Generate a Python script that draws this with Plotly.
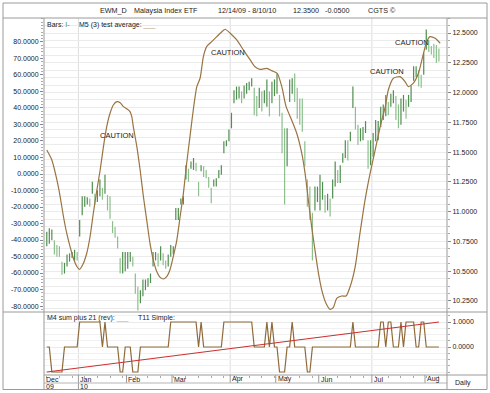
import plotly.graph_objects as go

# ---------------- data ----------------
highs = [10.83, 10.86, 10.85, 10.76, 10.72, 10.71, 10.58, 10.57, 10.64, 10.65,
         10.66, 10.68, 10.66, 10.93, 11.13, 11.13, 11.12, 11.11, 11.25, 11.15,
         11.18, 11.27, 11.20, 11.31, 11.14, 11.13, 10.92, 10.87, 10.79, 10.61,
         10.66, 10.66, 10.66, 10.66, 10.62, 10.48, 10.37, 10.34, 10.43, 10.43,
         10.44, 10.48, 10.66, 10.66, 10.65, 10.71, 10.65, 10.59, 10.64, 10.72,
         10.71, 11.03, 11.03, 11.11, 11.13, 11.39, 11.36, 11.42, 11.45, 11.41,
         11.25, 11.39, 11.38, 11.35, 11.29, 11.20, 11.27, 11.28, 11.35, 11.39,
         11.59, 11.60, 11.69, 11.83, 12.02, 12.05, 12.05,
         12.01, 12.06, 12.08, 12.09, 12.12, 12.04, 11.97, 12.04, 12.01, 12.02,
         12.11, 12.01, 12.09, 12.11, 12.16, 11.98, 11.83, 11.70, 11.70, 12.11,
         12.12, 12.16, 12.04, 11.95, 11.95, 11.59, 11.27, 11.21, 10.99, 11.21,
         11.21, 11.31, 11.25, 11.14, 11.15, 11.11, 11.27, 11.42, 11.35, 11.39,
         11.49, 11.60, 11.60, 11.67, 12.05, 11.88, 11.73, 11.70, 11.71, 11.76,
         11.60, 11.60, 11.66, 11.77, 11.76, 11.88, 11.90, 11.98, 11.92, 11.99,
         12.02, 11.97, 11.90, 11.95, 11.98, 11.94, 11.98, 12.06, 12.22, 12.22,
         12.19, 12.15, 12.33, 12.53, 12.44, 12.39, 12.41, 12.40, 12.37]
lows = [10.71, 10.73, 10.76, 10.64, 10.62, 10.62, 10.47, 10.48, 10.54, 10.58,
        10.61, 10.59, 10.59, 10.79, 10.97, 11.04, 11.06, 11.04, 11.15, 11.06,
        11.08, 11.13, 11.10, 11.15, 11.01, 10.94, 10.82, 10.78, 10.69, 10.48,
        10.48, 10.50, 10.52, 10.58, 10.54, 10.31, 10.17, 10.23, 10.29, 10.34,
        10.37, 10.40, 10.54, 10.59, 10.54, 10.59, 10.55, 10.52, 10.54, 10.62,
        10.64, 10.93, 10.93, 11.06, 11.06, 11.27, 11.25, 11.36, 11.35, 11.34,
        11.13, 11.34, 11.29, 11.28, 11.20, 11.07, 11.21, 11.21, 11.28, 11.31,
        11.49, 11.55, 11.59, 11.70, 11.91, 11.94, 11.95,
        11.91, 11.95, 11.99, 12.02, 12.05, 11.81, 11.80, 11.87, 11.84, 11.91,
        11.88, 11.80, 11.91, 11.97, 11.99, 11.80, 11.49, 11.06, 11.38, 11.92,
        11.99, 11.92, 11.78, 11.73, 11.67, 11.38, 11.04, 10.93, 10.59, 11.01,
        11.08, 11.01, 11.10, 10.99, 11.01, 10.96, 11.11, 11.21, 11.24, 11.24,
        11.41, 11.45, 11.43, 11.59, 11.87, 11.69, 11.56, 11.59, 11.60, 11.66,
        11.36, 11.39, 11.46, 11.59, 11.60, 11.71, 11.77, 11.80, 11.81, 11.88,
        11.91, 11.77, 11.70, 11.73, 11.84, 11.78, 11.88, 11.92, 12.10, 12.13,
        12.05, 12.04, 12.15, 12.36, 12.34, 12.32, 12.29, 12.25, 12.26]

# M5 (3) test average: readings (bar position, value)
ma_pos = [0, 2, 4, 5.3, 6.6, 7.9, 9.2, 10.5, 11.9, 12.9, 14.2, 15.8, 17.1, 18.4,
          19.8, 21.1, 22.4, 23.7, 25, 26.3, 27.7, 29, 30.3, 31.9, 32.9, 33.6,
          34.2, 35.6, 36.9, 38.2, 39.5, 40.8, 42.1, 43.5, 44.8, 46.1, 47.4,
          48.7, 50, 51.4, 52.7, 54, 55.3, 56.6, 57.9, 59.3, 60.6, 61.9, 63.2,
          65.2, 67.2, 69.2, 70.5, 72.5, 75.1, 77.7, 80.4, 82.3, 84.3, 87, 88.9,
          91.1, 92.9, 94.6, 96.8, 98.8, 100.8, 102.1, 103.4, 104.7, 106, 107.4,
          108.7, 110.4, 112, 113.3, 114.6, 116.6, 118.3, 119.9, 121.9, 123.8,
          125.8, 127.8, 129.8, 131.8, 133.8, 135, 137, 139.6, 141.6, 142.9,
          144.9, 146.9, 148.6, 150.2, 151.5, 153.5, 155.5]
ma_vals = [14.5, 8.5, -3.6, -13.8, -25.9, -36, -44, -51, -56, -57.8, -55, -48,
           -38, -23.8, -9.7, 2.4, 16.6, 28.7, 36.8, 41.8, 43.8, 43.2, 40.8,
           39.2, 37.8, 34.7, 28.7, 16.6, 2.4, -13.8, -27.9, -42, -52, -59.2,
           -62.6, -63.6, -62.2, -58, -50, -40, -25.9, -11.7, 6.5, 22.6, 38.8,
           52.9, 58, 71.1, 77.2, 80.2, 83.2, 86.2, 87.7, 85.3, 81.2, 75.2, 69.1,
           65, 63.4, 64, 62.6, 61, 52.9, 40.8, 32.7, 24.7, 12.5, 0.4, -15.8,
           -31.9, -46, -60.2, -70.3, -78.4, -82, -80.8, -75.3, -73.9, -73.9,
           -68.3, -56.2, -35.9, -15.8, 0.4, 14.5, 28.7, 40.8, 50.9, 58, 59, 56,
           52.9, 55, 61, 71.1, 80.2, 83.2, 82.2, 79.2]

# M4 sum plus 21 (rev), one value per bar
m4 = [0, 0, -1, -1, -1, -1, -1, 0, 0, 0, 0, 0, 0,
      1, 1, 1, 1, 1, 1, 1, 1, 1, 0, 1, 0, 0, 0, 0, 0,
      -1, -1, 0, 0, 0, -1, -1, -1,
      0, 0, 0, 0, 0, 0, 0, 0, 0, 0, 0, 0,
      1, 1, 1, 1, 1, 1, 1, 1, 1, 1, 1, 0, 1,
      0, 0, 0, 0, 0, 0, 0, 0,
      1, 1, 1, 1, 1, 1, 1, 1, 1, 1, 1, 1,
      0, 0, 0, 0, 0, 1, 0, 1, 0, 0, -1, -1, -1, 0, 0, 1,
      0, 0, 0, 0, 0, -1, -1,
      0, 0, 0, 0, 0, 0, 0, 0, 0, 0, 0, 0, 0, 0, 0, 0,
      1, 0, 0, 0, 0, 0, 0, 0, 0, 0, 0,
      1, 1, 0, 1, 1, 0, 0, 0, 1, 0, 1, 1, 1, 1, 0, 0, 1, 1,
      0, 0, 0, 0, 0, 0]

# T11 Simple (straight line: first and last bar)
t11_pos = [0, 155]
t11_vals = [-1.0, 1.0]

caution_pos = [27.7, 71.7, 134.5, 144.4]
caution_vals = [23.6, 73.8, 62.0, 79.6]

month_labels = ["Dec", "Jan", "Feb", "Mar", "Apr", "May", "Jun", "Jul", "Aug"]
month_starts = [-1.0, 12.5, 31.5, 49.5, 72.5, 90.5, 107.5, 128.5, 149.5]
year_labels = ["09", "10"]
year_starts = [-1.0, 12.5]
quarter_starts = [12.5, 72.5, 128.5]

price_ticks = [10.25, 10.5, 10.75, 11.0, 11.25, 11.5, 11.75, 12.0, 12.25, 12.5]
osc_ticks = [-80, -70, -60, -50, -40, -30, -20, -10, 0, 10, 20, 30, 40, 50, 60, 70, 80]
low_ticks = [0, 1]

title_parts = ["EWM_D", "Malaysia Index ETF", "12/14/09 - 8/10/10", "12.3500", "-0.0500", "CGTS ©"]

# ---------------- layout helpers ----------------
W, H = 490, 393
def fx(p):
    return p / W
def fy(p):
    return 1 - p / H

FONT = "Liberation Sans, Arial, Helvetica, sans-serif"
GRID = "#ebebeb"
BORDER = "#9a9a9a"
TXT = "#222222"

fig = go.Figure()

# price bars (high-low lines), darker when the bar's midpoint rose
xu, yu, xd, yd = [], [], [], []
prev = None
for i, (h, l) in enumerate(zip(highs, lows)):
    mid = (h + l) / 2
    if prev is None or mid >= prev:
        xu += [i, i, None]; yu += [l, h, None]
    else:
        xd += [i, i, None]; yd += [l, h, None]
    prev = mid
fig.add_trace(go.Scatter(x=xd, y=yd, mode="lines", line=dict(color="#8cbf8c", width=1.2),
                         xaxis="x", yaxis="y", hoverinfo="skip", showlegend=False))
fig.add_trace(go.Scatter(x=xu, y=yu, mode="lines", line=dict(color="#4f8f4f", width=1.2),
                         xaxis="x", yaxis="y", hoverinfo="skip", showlegend=False))

# oscillator average
fig.add_trace(go.Scatter(x=ma_pos, y=ma_vals, mode="lines",
                         line=dict(color="#9a7440", width=1.2, shape="spline", smoothing=0.6),
                         xaxis="x", yaxis="y2", showlegend=False))

# lower panel
fig.add_trace(go.Scatter(x=list(range(len(m4))), y=m4, mode="lines",
                         line=dict(color="#8f6a3a", width=1.2),
                         xaxis="x2", yaxis="y3", showlegend=False))
fig.add_trace(go.Scatter(x=t11_pos, y=t11_vals, mode="lines",
                         line=dict(color="#cc3030", width=1.1),
                         xaxis="x2", yaxis="y3", showlegend=False))

xdom = [fx(44), fx(447)]
xr = [-1.1, 158.2]
tickfont = dict(family=FONT, size=7, color=TXT)

fig.update_layout(
    width=W, height=H,
    margin=dict(l=0, r=0, t=0, b=0),
    paper_bgcolor="white", plot_bgcolor="white",
    showlegend=False,
    font=dict(family=FONT, size=7, color=TXT),
    xaxis=dict(domain=xdom, range=xr, anchor="y", showticklabels=False, showgrid=False,
               zeroline=False, showline=False, ticks=""),
    xaxis2=dict(domain=xdom, range=xr, anchor="y3", matches="x", showticklabels=False,
                showgrid=False, zeroline=False, showline=False,
                ticks="outside", ticklen=2, tickcolor="#aaaaaa", tick0=0, dtick=5),
    yaxis=dict(domain=[fy(312), fy(18)], range=[10.157, 12.626], side="right", anchor="x",
               tickvals=price_ticks, ticktext=[f"{v:.4f}" for v in price_ticks],
               tickfont=tickfont, ticks="outside", ticklen=3, tickcolor="#888888",
               showgrid=True, gridcolor=GRID, gridwidth=1, zeroline=False, showline=False,
               minor=dict(dtick=0.0625, tick0=0, showgrid=True, gridcolor=GRID,
                          ticks="outside", ticklen=2, tickcolor="#aaaaaa")),
    yaxis2=dict(overlaying="y", side="left", anchor="x", range=[-83.6, 94.5],
                tickvals=osc_ticks, ticktext=[f"{v:.4f}" for v in osc_ticks],
                tickfont=tickfont, ticks="outside", ticklen=3, tickcolor="#888888",
                showgrid=False, zeroline=False, showline=False,
                minor=dict(dtick=2, ticks="outside", ticklen=2, tickcolor="#aaaaaa", showgrid=False)),
    yaxis3=dict(domain=[fy(375), fy(312)], range=[-1.12, 1.4], side="right", anchor="x2",
                tickvals=low_ticks, ticktext=[f"{v:.4f}" for v in low_ticks],
                tickfont=tickfont, ticks="outside", ticklen=3, tickcolor="#888888",
                showgrid=True, gridcolor=GRID, zeroline=False, showline=False,
                minor=dict(dtick=0.25, showgrid=True, gridcolor="#f1f1f1",
                           ticks="outside", ticklen=2, tickcolor="#aaaaaa")),
)

shapes = []
def pline(x0, y0, x1, y1, color=BORDER, width=1):
    shapes.append(dict(type="line", xref="paper", yref="paper", x0=fx(x0), y0=fy(y0),
                       x1=fx(x1), y1=fy(y1), line=dict(color=color, width=width)))

# quarter gridlines spanning both panels
for q in quarter_starts:
    shapes.append(dict(type="line", xref="x", yref="paper", x0=q, x1=q, y0=fy(375), y1=fy(18),
                       line=dict(color="#dddddd", width=1), layer="below"))
# month separators in date row
for m in month_starts[1:]:
    shapes.append(dict(type="line", xref="x", yref="paper", x0=m, x1=m, y0=fy(383), y1=fy(375),
                       line=dict(color=BORDER, width=1)))
for y in year_starts[1:]:
    shapes.append(dict(type="line", xref="x", yref="paper", x0=y, x1=y, y0=fy(389.5), y1=fy(383),
                       line=dict(color=BORDER, width=1)))

# frame
shapes.append(dict(type="rect", xref="paper", yref="paper", x0=fx(3), x1=fx(487),
                   y0=fy(389.5), y1=fy(3), line=dict(color=BORDER, width=1)))
pline(3, 18, 487, 18)
pline(3, 312, 487, 312)
pline(44, 375, 487, 375)
pline(44, 383, 447, 383, color="#b5b5b5")
pline(44, 18, 44, 389.5)
pline(447, 18, 447, 389.5)

ann = []
def ptext(x, y, text, size=7, anchor="left"):
    ann.append(dict(xref="paper", yref="paper", x=fx(x), y=fy(y), text=text, showarrow=False,
                    xanchor=anchor, yanchor="middle", font=dict(family=FONT, size=size, color=TXT)))

title_x = [98, 132, 216, 291, 323, 366]
for t, x in zip(title_parts, title_x):
    ptext(x, 10.5, t, size=7.2)

ptext(45, 25, "Bars: <span style='color:#3f8f3f'>I-</span>")
ptext(77, 25, "M5 (3) test average: <span style='color:#b89a70'>___</span>")
ptext(45, 318, "M4 sum plus 21 (rev): <span style='color:#c0a888'>___</span>")
ptext(136, 318, "T11 Simple: <span style='color:#e8a0a0'>___</span>")
ptext(463, 382.5, "Daily", anchor="center")

for lab, m in zip(month_labels, month_starts):
    ann.append(dict(xref="x", yref="paper", x=m, y=fy(379.3), text=lab, showarrow=False,
                    xanchor="left", yanchor="middle",
                    font=dict(family=FONT, size=7, color=TXT)))
for lab, y in zip(year_labels, year_starts):
    ann.append(dict(xref="x", yref="paper", x=y, y=fy(386.5), text=lab, showarrow=False,
                    xanchor="left", yanchor="middle",
                    font=dict(family=FONT, size=7, color=TXT)))

for p, v in zip(caution_pos, caution_vals):
    ann.append(dict(xref="x", yref="y2", x=p, y=v, text="CAUTION", showarrow=False,
                    xanchor="center", yanchor="middle",
                    font=dict(family=FONT, size=7.5, color=TXT)))

fig.update_layout(shapes=shapes, annotations=ann)

fig.write_html("out.html", config={"displayModeBar": False},
               post_script="document.body.style.margin='0';document.body.style.padding='0';")
